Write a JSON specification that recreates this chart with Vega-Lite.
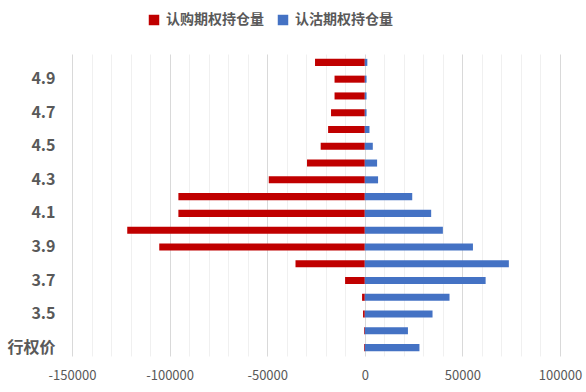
{
  "$schema": "https://vega.github.io/schema/vega-lite/v6.json",
  "autosize": "none",
  "width": 488,
  "height": 302,
  "padding": {"left": 72, "top": 54, "right": 26, "bottom": 36},
  "background": "white",
  "config": {
    "font": "Noto Sans CJK SC",
    "view": {"stroke": null}
  },
  "data": {
    "values": [
      {"strike": "5.0", "type": "认购期权持仓量", "value": -25500},
      {"strike": "5.0", "type": "认沽期权持仓量", "value": 1300},
      {"strike": "4.9", "type": "认购期权持仓量", "value": -15500},
      {"strike": "4.9", "type": "认沽期权持仓量", "value": 900},
      {"strike": "4.8", "type": "认购期权持仓量", "value": -15500},
      {"strike": "4.8", "type": "认沽期权持仓量", "value": 900},
      {"strike": "4.7", "type": "认购期权持仓量", "value": -17300},
      {"strike": "4.7", "type": "认沽期权持仓量", "value": 900},
      {"strike": "4.6", "type": "认购期权持仓量", "value": -18800},
      {"strike": "4.6", "type": "认沽期权持仓量", "value": 2400},
      {"strike": "4.5", "type": "认购期权持仓量", "value": -22600},
      {"strike": "4.5", "type": "认沽期权持仓量", "value": 4100},
      {"strike": "4.4", "type": "认购期权持仓量", "value": -29600},
      {"strike": "4.4", "type": "认沽期权持仓量", "value": 6300},
      {"strike": "4.3", "type": "认购期权持仓量", "value": -49200},
      {"strike": "4.3", "type": "认沽期权持仓量", "value": 6800},
      {"strike": "4.2", "type": "认购期权持仓量", "value": -95500},
      {"strike": "4.2", "type": "认沽期权持仓量", "value": 24300},
      {"strike": "4.1", "type": "认购期权持仓量", "value": -95500},
      {"strike": "4.1", "type": "认沽期权持仓量", "value": 34000},
      {"strike": "4.0", "type": "认购期权持仓量", "value": -121700},
      {"strike": "4.0", "type": "认沽期权持仓量", "value": 40000},
      {"strike": "3.9", "type": "认购期权持仓量", "value": -105300},
      {"strike": "3.9", "type": "认沽期权持仓量", "value": 55400},
      {"strike": "3.8", "type": "认购期权持仓量", "value": -35500},
      {"strike": "3.8", "type": "认沽期权持仓量", "value": 73800},
      {"strike": "3.7", "type": "认购期权持仓量", "value": -10100},
      {"strike": "3.7", "type": "认沽期权持仓量", "value": 61900},
      {"strike": "3.6", "type": "认购期权持仓量", "value": -1400},
      {"strike": "3.6", "type": "认沽期权持仓量", "value": 43400},
      {"strike": "3.5", "type": "认购期权持仓量", "value": -900},
      {"strike": "3.5", "type": "认沽期权持仓量", "value": 34700},
      {"strike": "3.4", "type": "认购期权持仓量", "value": -400},
      {"strike": "3.4", "type": "认沽期权持仓量", "value": 22100},
      {"strike": "行权价", "type": "认购期权持仓量", "value": -400},
      {"strike": "行权价", "type": "认沽期权持仓量", "value": 28000}
    ]
  },
  "mark": {"type": "bar"},
  "encoding": {
    "y": {
      "field": "strike",
      "type": "nominal",
      "sort": ["5.0","4.9","4.8","4.7","4.6","4.5","4.4","4.3","4.2","4.1","4.0","3.9","3.8","3.7","3.6","3.5","3.4","行权价"],
      "scale": {"paddingInner": 0.58, "paddingOuter": 0.29},
      "axis": {
        "title": null,
        "values": ["4.9","4.7","4.5","4.3","4.1","3.9","3.7","3.5","行权价"],
        "domain": false,
        "ticks": false,
        "grid": false,
        "labelFontSize": 16,
        "labelFontWeight": "bold",
        "labelColor": "#595959",
        "labelPadding": 17
      }
    },
    "x": {
      "field": "value",
      "type": "quantitative",
      "stack": null,
      "scale": {"domain": [-150000, 100000], "nice": false},
      "axis": {
        "title": null,
        "values": [-150000,-140000,-130000,-120000,-110000,-100000,-90000,-80000,-70000,-60000,-50000,-40000,-30000,-20000,-10000,0,10000,20000,30000,40000,50000,60000,70000,80000,90000,100000],
        "labelExpr": "datum.value % 50000 === 0 ? '' + datum.value : ''",
        "labelOverlap": false,
        "labelFlush": false,
        "labelBound": false,
        "domain": false,
        "ticks": false,
        "grid": true,
        "gridColor": {"condition": {"test": "datum.value % 50000 === 0", "value": "#d9d9d9"}, "value": "#f0f0f0"},
        "gridWidth": 1,
        "labelFontSize": 13,
        "labelColor": "#595959",
        "labelPadding": 13
      }
    },
    "color": {
      "field": "type",
      "type": "nominal",
      "sort": ["认购期权持仓量", "认沽期权持仓量"],
      "scale": {"domain": ["认购期权持仓量", "认沽期权持仓量"], "range": ["#C00000", "#4472C4"]},
      "legend": {
        "title": null,
        "orient": "none",
        "direction": "horizontal",
        "legendX": 75,
        "legendY": -41,
        "symbolType": "square",
        "symbolSize": 110,
        "symbolStrokeWidth": 0,
        "labelFontSize": 14,
        "labelFontWeight": "bold",
        "labelColor": "#595959",
        "columnPadding": 12,
        "labelOffset": 5
      }
    }
  }
}
